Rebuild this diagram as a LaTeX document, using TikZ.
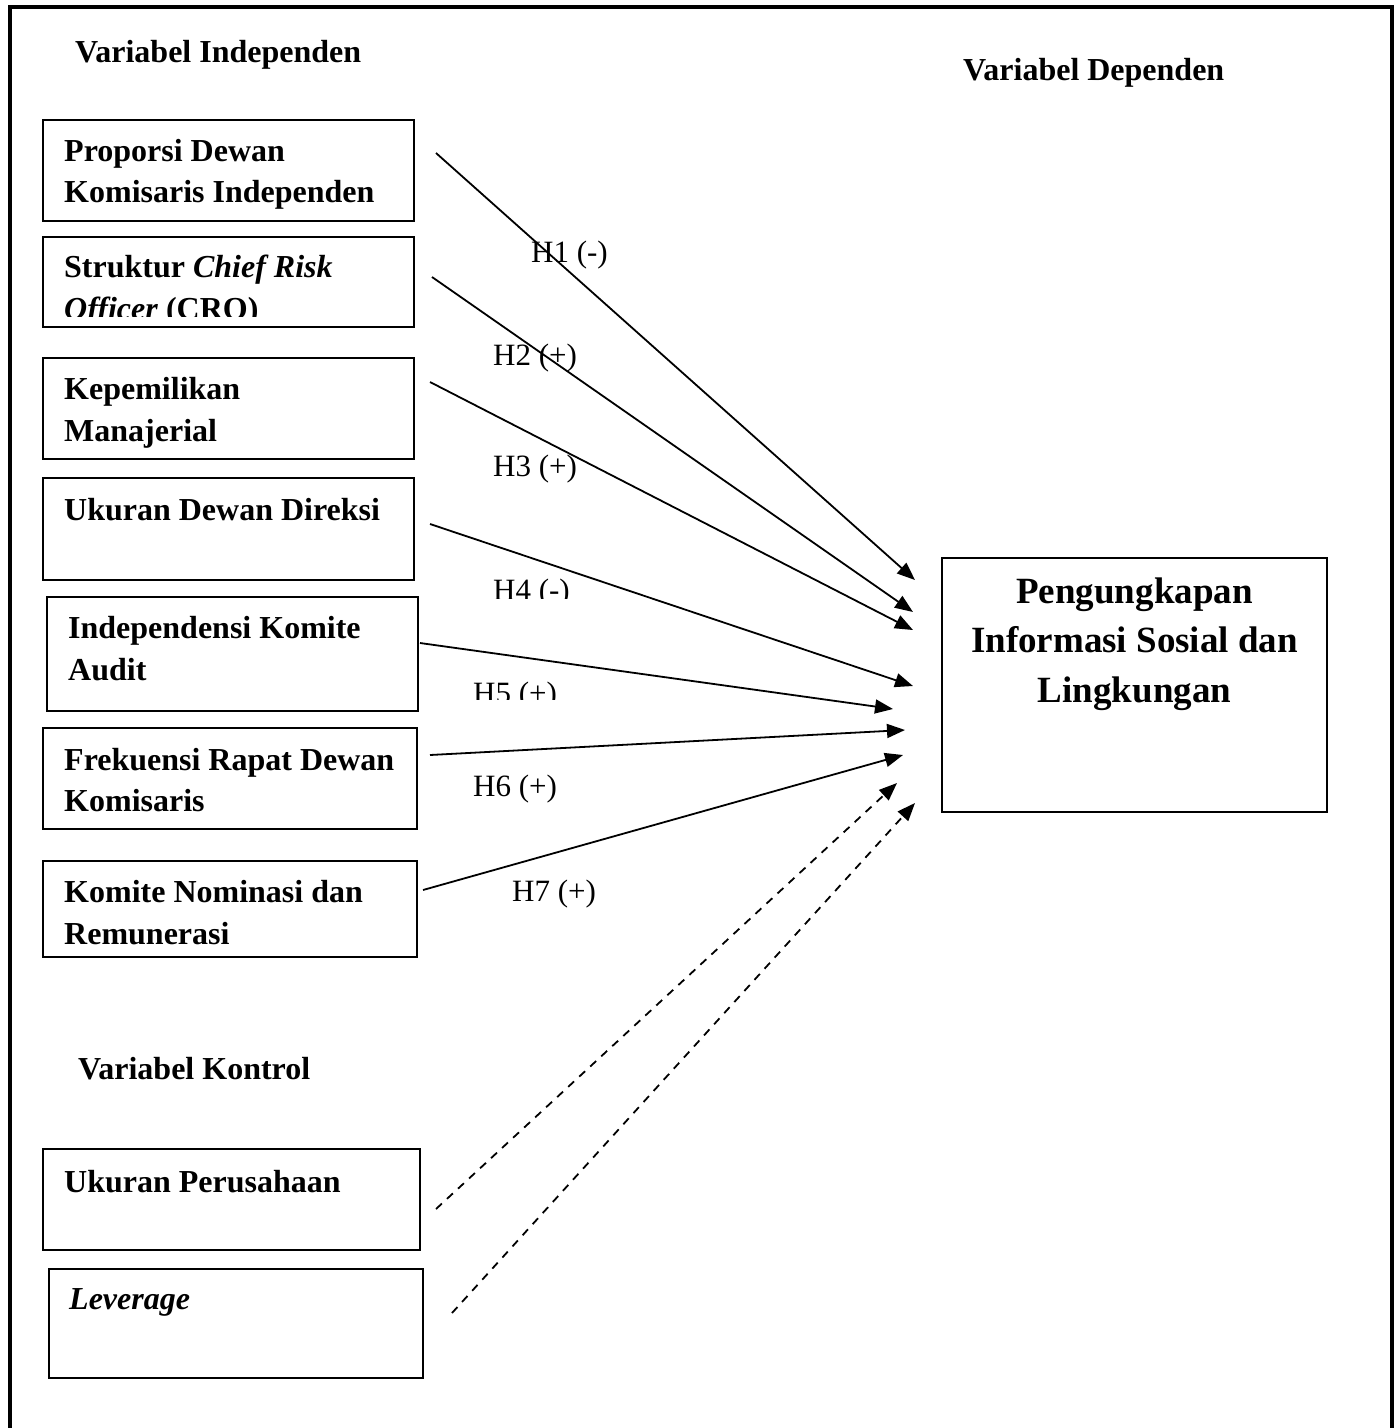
\documentclass[tikz,border=0pt]{standalone}
\usepackage{fontspec}
\setmainfont{Liberation Serif}
\usetikzlibrary{arrows.meta}
\begin{document}
\begin{tikzpicture}[x=1pt,y=-1pt,
  box/.style={draw, line width=1.8pt, inner sep=0pt, outer sep=0pt},
  vtext/.style={anchor=base west, inner sep=0pt, font=\fontsize{32}{38}\selectfont\bfseries},
  htext/.style={anchor=base west, inner sep=0pt, font=\fontsize{31}{36}\selectfont},
  dtext/.style={anchor=base, inner sep=0pt, font=\fontsize{37}{44}\selectfont\bfseries},
  conn/.style={line width=1.8pt, -{Triangle[length=18pt,width=14pt]}},
  ctrl/.style={line width=1.8pt, dash pattern=on 8pt off 7pt, -{Triangle[length=18pt,width=14pt]}}]
\useasboundingbox (0,0) rectangle (1398,1428);
% outer frame (no bottom edge visible)
\draw[line width=4.5pt] (10,1430) -- (10,7) -- (1392,7) -- (1392,1430);

% headings
\node[vtext] (hind) at (75,62) {Variabel Independen};
\node[vtext] (hdep) at (963,80) {Variabel Dependen};
\node[vtext] (hkon) at (78,1079) {Variabel Kontrol};

% boxes
\node[box, minimum width=371pt, minimum height=101pt] (b1) at (228.5,170.5) {};
\node[box, minimum width=371pt, minimum height=90pt]  (b2) at (228.5,282) {};
\node[box, minimum width=371pt, minimum height=101pt] (b3) at (228.5,408.5) {};
\node[box, minimum width=371pt, minimum height=102pt] (b4) at (228.5,529) {};
\node[box, minimum width=371pt, minimum height=114pt] (b5) at (232.5,654) {};
\node[box, minimum width=374pt, minimum height=101pt] (b6) at (230,778.5) {};
\node[box, minimum width=374pt, minimum height=96pt]  (b7) at (230,909) {};
\node[box, minimum width=377pt, minimum height=101pt] (b8) at (231.5,1199.5) {};
\node[box, minimum width=374pt, minimum height=109pt] (b9) at (236,1323.5) {};
\node[box, minimum width=385pt, minimum height=254pt] (dep) at (1134.5,685) {};

% box texts
\node[vtext] (t1a) at (64,161) {Proporsi Dewan};
\node[vtext] (t1b) at (64,202) {Komisaris Independen};
\node[vtext] (t2a) at (64,277) {Struktur \textit{Chief Risk}};
\begin{scope}
  \clip (40,230) rectangle (420,316);
  \node[vtext] (t2b) at (64,319) {\textit{Officer} (CRO)};
\end{scope}
\node[vtext] (t3a) at (64,399) {Kepemilikan};
\node[vtext] (t3b) at (64,441) {Manajerial};
\node[vtext] (t4a) at (64,520) {Ukuran Dewan Direksi};
\node[vtext] (t5a) at (68,638) {Independensi Komite};
\node[vtext] (t5b) at (68,680) {Audit};
\node[vtext] (t6a) at (64,770) {Frekuensi Rapat Dewan};
\node[vtext] (t6b) at (64,811) {Komisaris};
\node[vtext] (t7a) at (64,902) {Komite Nominasi dan};
\node[vtext] (t7b) at (64,944) {Remunerasi};
\node[vtext] (t8a) at (64,1192) {Ukuran Perusahaan};
\node[vtext] (t9a) at (69,1309) {\textit{Leverage}};

\node[dtext] (d1) at (1134.5,603) {Pengungkapan};
\node[dtext] (d2) at (1134.5,652) {Informasi Sosial dan};
\node[dtext] (d3) at (1134.5,702) {Lingkungan};

% connector end points
\coordinate (s1) at (436,153);  \coordinate (e1) at (915,580);
\coordinate (s2) at (432,277);  \coordinate (e2) at (913,612);
\coordinate (s3) at (430,382);  \coordinate (e3) at (913,630);
\coordinate (s4) at (430,524);  \coordinate (e4) at (913,686);
\coordinate (s5) at (420,643);  \coordinate (e5) at (893,709);
\coordinate (s6) at (430,755);  \coordinate (e6) at (905,730);
\coordinate (s7) at (423,890);  \coordinate (e7) at (903,755);
\coordinate (s8) at (436,1209); \coordinate (e8) at (897,783);
\coordinate (s9) at (452,1313); \coordinate (e9) at (915,803);

\draw[conn] (s1) -- (e1);
\draw[conn] (s2) -- (e2);
\draw[conn] (s3) -- (e3);
\draw[conn] (s4) -- (e4);
\draw[conn] (s5) -- (e5);
\draw[conn] (s6) -- (e6);
\draw[conn] (s7) -- (e7);
\draw[ctrl] (s8) -- (e8);
\draw[ctrl] (s9) -- (e9);

% hypothesis labels
\node[htext] (h1) at (531,262) {H1 (-)};
\node[htext] (h2) at (493,365) {H2 (+)};
\node[htext] (h3) at (493,476) {H3 (+)};
\begin{scope}
  \clip (480,560) rectangle (600,598);
  \node[htext] (h4) at (493,600) {H4 (-)};
\end{scope}
\begin{scope}
  \clip (460,660) rectangle (600,699);
  \node[htext] (h5) at (473,703) {H5 (+)};
\end{scope}
\node[htext] (h6) at (473,796) {H6 (+)};
\node[htext] (h7) at (512,901) {H7 (+)};
\end{tikzpicture}
\end{document}
